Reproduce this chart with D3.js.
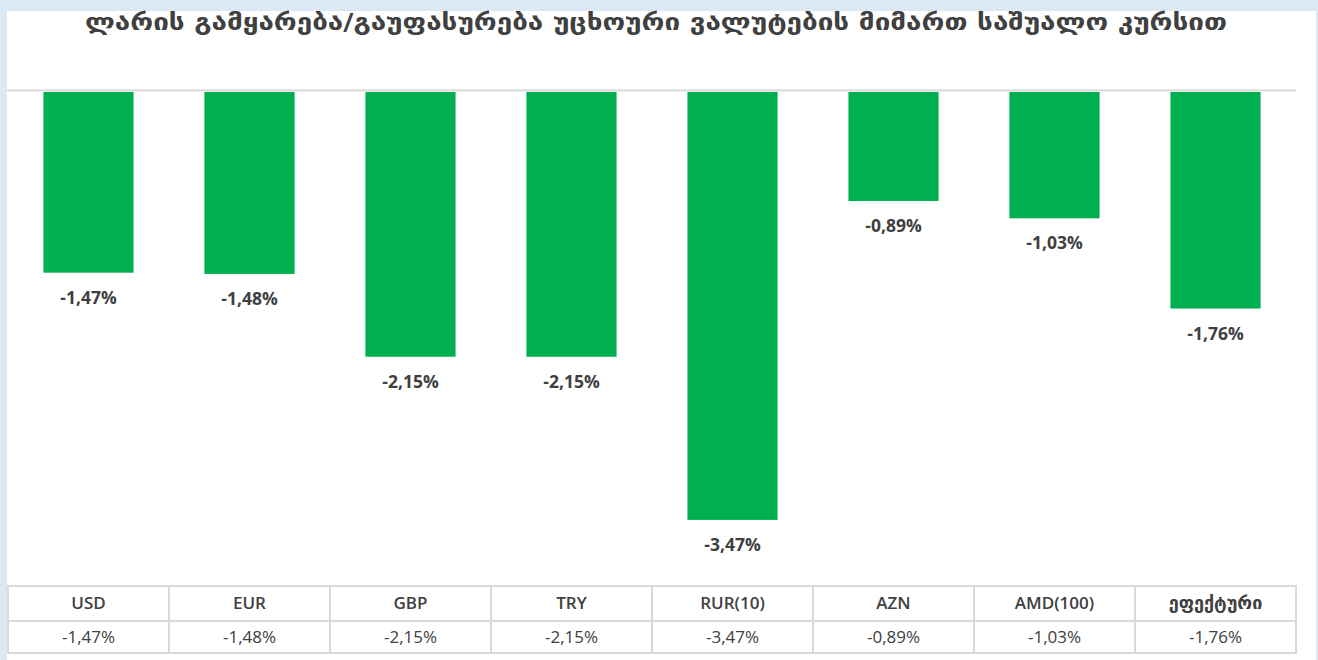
<!DOCTYPE html>
<html>
<head>
<meta charset="utf-8">
<script src="https://cdn.jsdelivr.net/npm/d3@7"></script>
<style>
  body { margin: 0; background: #dde8f5; }
  svg { display: block; }
</style>
</head>
<body>
<div id="chart"></div>
<script>
// data
var titleText = "ლარის გამყარება/გაუფასურება უცხოური ვალუტების მიმართ საშუალო კურსით";
var currencies = ["USD", "EUR", "GBP", "TRY", "RUR(10)", "AZN", "AMD(100)", "ეფექტური"];
var changes = [-1.47, -1.48, -2.15, -2.15, -3.47, -0.89, -1.03, -1.76];

// comma decimal and plain hyphen, as in the original
var locale = d3.formatLocale({ decimal: ",", thousands: " ", grouping: [3], currency: ["", ""], minus: "-" });
var fmt = function (v) { return locale.format(".2f")(v) + "%"; };

var width = 1318, height = 660;

var svg = d3.select("#chart")
    .append("svg")
    .attr("width", width)
    .attr("height", height);

// white chart panel
svg.append("rect")
    .attr("x", 7).attr("y", 11)
    .attr("width", 1309).attr("height", height - 11)
    .attr("fill", "#ffffff");

var x = d3.scaleBand()
    .domain(currencies)
    .range([8, 1296])
    .paddingInner(0.44)
    .paddingOuter(0.22);

var y = d3.scaleLinear().domain([-3.5, 0]).range([91 + 3.5 * 123.6, 91]);

var step = x.step();
var colLeft = function (d) { return 8 + currencies.indexOf(d) * step; };

svg.append("text")
    .attr("x", 656)
    .attr("y", 30)
    .attr("text-anchor", "middle")
    .attr("textLength", 1142)
    .attr("lengthAdjust", "spacingAndGlyphs")
    .style("font-family", "DejaVu Sans, sans-serif")
    .style("font-size", "23px")
    .style("font-weight", 700)
    .attr("fill", "#404040")
    .text(titleText);

// zero line
svg.append("line")
    .attr("x1", 7).attr("x2", 1296)
    .attr("y1", y(0) - 0.5).attr("y2", y(0) - 0.5)
    .attr("stroke", "#d9d9d9")
    .attr("stroke-width", 2);

svg.selectAll("rect.bar")
    .data(changes)
    .join("rect")
    .attr("class", "bar")
    .attr("x", function (d, i) { return x(currencies[i]); })
    .attr("y", y(0) + 1)
    .attr("width", x.bandwidth())
    .attr("height", function (d) { return y(d) - y(0) - 1; })
    .attr("fill", "#00b050");

svg.selectAll("text.lbl")
    .data(changes)
    .join("text")
    .attr("class", "lbl")
    .attr("x", function (d, i) { return x(currencies[i]) + x.bandwidth() / 2; })
    .attr("y", function (d) { return y(d) + 31; })
    .attr("text-anchor", "middle")
    .style("font-family", "Open Sans, sans-serif")
    .style("font-size", "17.5px")
    .style("font-weight", 700)
    .attr("fill", "#404040")
    .text(fmt);

// data table under the chart
var rowTop = 586, rowMid = 621, rowBot = 653;
var table = svg.append("g");

table.selectAll("rect.cell")
    .data(currencies)
    .join("rect")
    .attr("class", "cell")
    .attr("x", colLeft)
    .attr("y", rowTop)
    .attr("width", step)
    .attr("height", rowBot - rowTop)
    .attr("fill", "none")
    .attr("stroke", "#d9d9d9")
    .attr("stroke-width", 2);

table.append("line")
    .attr("x1", 8).attr("x2", 1296)
    .attr("y1", rowMid).attr("y2", rowMid)
    .attr("stroke", "#d9d9d9")
    .attr("stroke-width", 2);

table.selectAll("text.head")
    .data(currencies)
    .join("text")
    .attr("class", "head")
    .attr("x", function (d) { return colLeft(d) + step / 2; })
    .attr("y", 609)
    .attr("text-anchor", "middle")
    .style("font-family", function (d, i) { return i === 7 ? "DejaVu Sans, sans-serif" : "Open Sans, sans-serif"; })
    .style("font-size", function (d, i) { return i === 7 ? "18px" : "17px"; })
    .style("font-weight", 600)
    .attr("fill", "#404040")
    .text(function (d) { return d; });

table.selectAll("text.val")
    .data(changes)
    .join("text")
    .attr("class", "val")
    .attr("x", function (d, i) { return colLeft(currencies[i]) + step / 2; })
    .attr("y", 643)
    .attr("text-anchor", "middle")
    .style("font-family", "Open Sans, sans-serif")
    .style("font-size", "17px")
    .attr("fill", "#404040")
    .text(fmt);
</script>
</body>
</html>
